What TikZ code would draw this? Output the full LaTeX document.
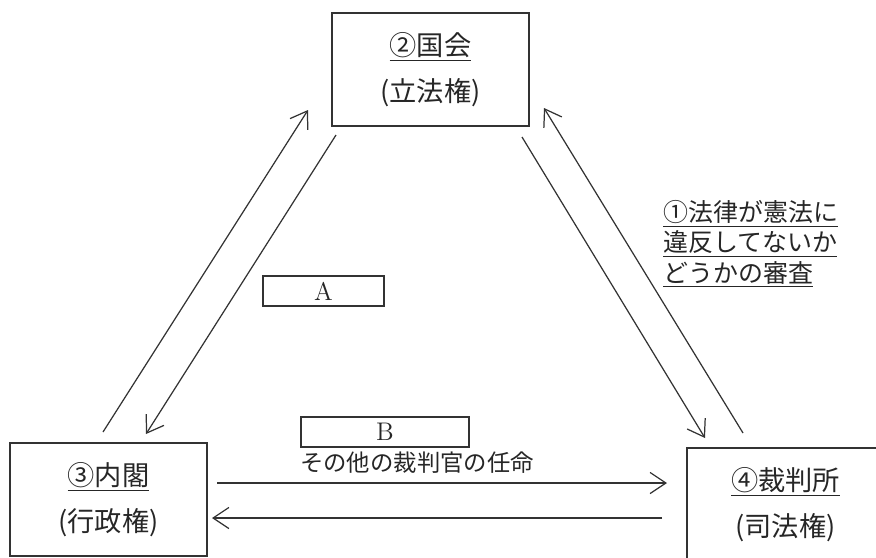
\documentclass[tikz,border=0pt]{standalone}
\usepackage{fontspec}
\newfontfamily\jpfont{Noto Sans CJK JP}
\usetikzlibrary{arrows.meta}

\tikzset{
  power/.style={draw=black!80, line width=0.7pt, minimum width=3.94cm, minimum height=2.26cm,
    align=center, text=black!85, font=\jpfont\fontsize{15.5}{26.5}\selectfont},
  blank/.style={draw=black!80, line width=0.7pt, minimum height=0.6cm, inner sep=0pt,
    text=black!85, font=\fontsize{14.5}{16}\selectfont},
  check/.style={-{Straight Barb[length=9pt,width=12pt]}, line width=0.7pt, draw=black!80},
}

\begin{document}
\begin{tikzpicture}[x=0.02cm, y=-0.02cm]
		%%%%% FRAME %%%%%
		\useasboundingbox (0, 0) rectangle (876, 558);
		\clip (0, 0) rectangle (876, 558);
		
		%%%%% THREE POWERS %%%%%
		\node[power] (kokkai) at (430.5, 69.5) {\underline{②国会}\\(立法権)};
		\node[power] (naikaku) at (108.5, 499.5) {\underline{③内閣}\\(行政権)};
		\node[power] (saibansho) at (785.5, 504.5) {\underline{④裁判所}\\(司法権)};
		
		%%%%% BLANKS %%%%%
		\node[blank, minimum width=2.42cm] (blankA) at (323.5, 291) {A};
		\node[blank, minimum width=3.36cm] (blankB) at (385, 432) {B};
		
		%%%%% ARROWS %%%%%
		\coordinate (naiUp) at (103, 432);   \coordinate (kokUp) at (308, 110);
		\coordinate (kokDn) at (336, 135);   \coordinate (naiDn) at (146, 434);
		\coordinate (kokSa) at (522, 137);   \coordinate (saiDn) at (705, 438);
		\coordinate (saiUp) at (743, 433);   \coordinate (kokUp2) at (544, 108);
		\coordinate (naiR) at (217, 483);    \coordinate (saiL) at (667, 483);
		\coordinate (saiR) at (662, 518);    \coordinate (naiL) at (212, 518);
		
		\draw[check] (naiUp) -- (kokUp);
		\draw[check] (kokDn) -- (naiDn);
		\draw[check] (kokSa) -- (saiDn);
		\draw[check] (saiUp) -- (kokUp2);
		\draw[check] (naiR) -- (saiL);
		\draw[check] (saiR) -- (naiL);
		
		%%%%% LABELS %%%%%
		\node[text=black!85, font=\jpfont\fontsize{13.3}{16}\selectfont] (ninmei) at (417, 463) {その他の裁判官の任命};
		\node[anchor=west, inner sep=0pt, align=left, text=black!85, font=\jpfont\fontsize{14.2}{17.3}\selectfont] (shinsa) at (663, 244)
			{\underline{①法律が憲法に}\\\underline{違反してないか}\\\underline{どうかの審査}};
		
		%%%%% END %%%%%
	\end{tikzpicture}
\end{document}
